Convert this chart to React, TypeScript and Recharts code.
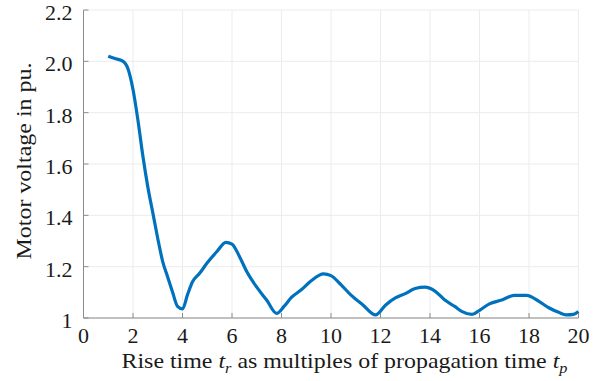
import React from 'react';
import { LineChart, Line, XAxis, YAxis, CartesianGrid } from 'recharts';

// rise time in multiples of propagation time
const riseTime = [
  1.0, 1.3, 1.6, 1.8, 2.0, 2.2, 2.4, 2.6, 2.8, 3.0, 3.2, 3.4, 3.6, 3.8, 4.0,
  4.2, 4.4, 4.7, 5.0, 5.4, 5.75, 6.0, 6.3, 6.6, 7.0, 7.4, 7.8, 8.1, 8.4, 8.8,
  9.2, 9.7, 10.0, 10.4, 10.8, 11.3, 11.8, 12.2, 12.6, 13.0, 13.4, 13.8, 14.2,
  14.6, 15.0, 15.3, 15.7, 16.0, 16.4, 16.9, 17.4, 17.9, 18.4, 18.8, 19.2, 19.5,
  19.8, 20.0,
];

// peak motor voltage (pu)
const motorVoltage = [
  2.02, 2.01, 2.0, 1.97, 1.89, 1.77, 1.63, 1.51, 1.41, 1.31, 1.22, 1.16, 1.1, 1.045, 1.035,
  1.09, 1.14, 1.175, 1.215, 1.26, 1.295, 1.288, 1.24, 1.18, 1.12, 1.07, 1.018, 1.045, 1.08, 1.11,
  1.145, 1.172, 1.165, 1.13, 1.09, 1.05, 1.012, 1.05, 1.078, 1.095, 1.115, 1.12, 1.105,
  1.07, 1.045, 1.025, 1.014, 1.03, 1.055, 1.07, 1.088, 1.088, 1.065, 1.04, 1.022, 1.012,
  1.014, 1.025,
];

const xTicks = [0, 2, 4, 6, 8, 10, 12, 14, 16, 18, 20];
const yTicks = [1, 1.2, 1.4, 1.6, 1.8, 2.0, 2.2];

const data = riseTime.map((t, i) => ({ t, v: motorVoltage[i] }));

const FONT = '"Liberation Serif", "Times New Roman", serif';
const AXIS = '#8c8c8c';
const TEXT = '#1a1a1a';

const XTick = ({ x, y, payload }: any) => (
  <g>
    <line x1={x} x2={x} y1={y - 10} y2={y - 15} stroke={AXIS} strokeWidth={1} />
    <text x={x} y={y + 15} textAnchor="middle" fontFamily={FONT} fontSize={22} fill={TEXT}>
      {payload.value}
    </text>
  </g>
);

const YTick = ({ x, y, payload }: any) => (
  <g>
    <line x1={x + 11} x2={x + 16} y1={y} y2={y} stroke={AXIS} strokeWidth={1} />
    <text x={x} y={y + 10} textAnchor="end" fontFamily={FONT} fontSize={22} fill={TEXT}>
      {payload.value === 1 ? '1' : payload.value.toFixed(1)}
    </text>
  </g>
);

const XLabel = ({ viewBox }: any) => {
  const { x, y } = viewBox;
  return (
    <text
      x={x + 38}
      y={y + 50}
      fontFamily={FONT}
      fontSize={22}
      fill={TEXT}
      textLength={446}
      lengthAdjust="spacingAndGlyphs"
    >
      Rise time <tspan fontStyle="italic">t</tspan>
      <tspan fontStyle="italic" fontSize={15} dy={5}>r</tspan>
      <tspan dy={-5}> as multiples of propagation time </tspan>
      <tspan fontStyle="italic">t</tspan>
      <tspan fontStyle="italic" fontSize={15} dy={5}>p</tspan>
    </text>
  );
};

const YLabel = () => {
  const cx = 31;
  const cy = 161;
  return (
    <text
      x={cx}
      y={cy}
      transform={`rotate(-90, ${cx}, ${cy})`}
      textAnchor="middle"
      fontFamily={FONT}
      fontSize={22}
      fill={TEXT}
      textLength={197}
      lengthAdjust="spacingAndGlyphs"
    >
      Motor voltage in pu.
    </text>
  );
};

export default function App() {
  return (
    <div style={{ position: 'absolute', left: 0, top: 0, background: '#fff' }}>
      <LineChart width={608} height={381} data={data} margin={{ top: 10, right: 29.5, left: 0, bottom: 0 }}>
        <CartesianGrid stroke="#ececec" strokeWidth={1} />
        <XAxis
          dataKey="t"
          type="number"
          domain={[0, 20]}
          ticks={xTicks}
          height={63}
          stroke={AXIS}
          tickSize={0}
          tickMargin={10}
          tick={<XTick />}
          label={<XLabel />}
        />
        <YAxis
          type="number"
          domain={[1, 2.2]}
          ticks={yTicks}
          width={83.5}
          stroke={AXIS}
          tickSize={0}
          tickMargin={11}
          tick={<YTick />}
          label={<YLabel />}
        />
        <Line
          type="monotone"
          dataKey="v"
          stroke="#0072BD"
          strokeWidth={3.2}
          dot={false}
          isAnimationActive={false}
        />
      </LineChart>
    </div>
  );
}
